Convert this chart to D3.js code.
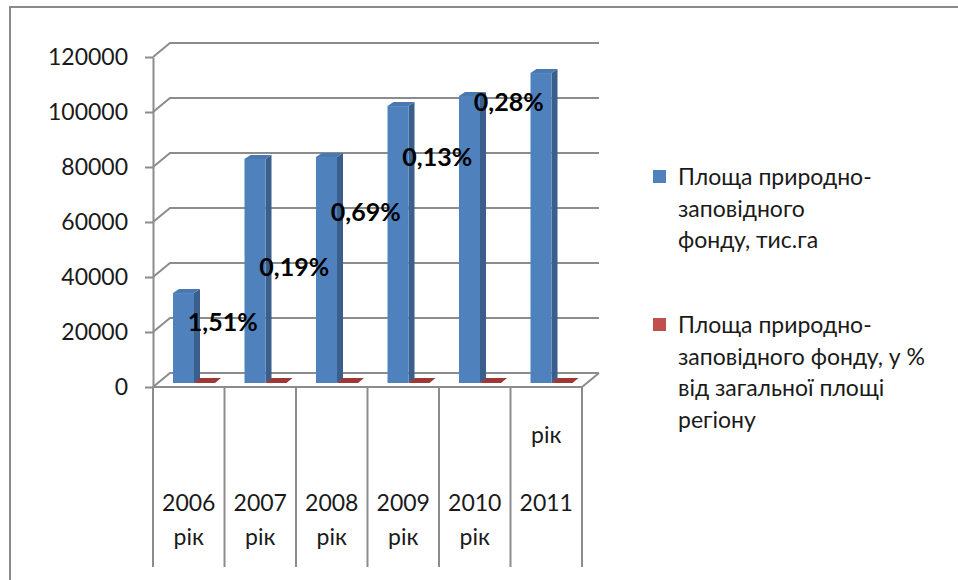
<!DOCTYPE html>
<html>
<head>
<meta charset="utf-8">
<script src="https://cdn.jsdelivr.net/npm/d3@7/dist/d3.min.js"></script>
<style>
  html, body { margin: 0; padding: 0; background: #ffffff; }
  svg { display: block; font-family: Lato, "Open Sans", sans-serif; }
</style>
</head>
<body>
<svg id="chart" width="958" height="580"></svg>
<script>
// ---- data ----
const categories = ["2006 рік", "2007 рік", "2008 рік", "2009 рік", "2010 рік", "2011 рік"];
const categoryTickLines = [["2006", "рік"], ["2007", "рік"], ["2008", "рік"], ["2009", "рік"], ["2010", "рік"], ["рік", "", "2011"]];
const areaValues = [32700, 81500, 82200, 100700, 104400, 112700];      // тис.га
const percentValues = [1.51, 0.19, 0.69, 0.13, 0.28, 0.3];             // % від площі
const percentLabels = ["1,51%", "0,19%", "0,69%", "0,13%", "0,28%"];
const yTicks = [0, 20000, 40000, 60000, 80000, 100000, 120000];
const seriesNames = [
  ["Площа природно-", "заповідного", "фонду, тис.га"],
  ["Площа природно-", "заповідного фонду, у %", "від загальної площі", "регіону"]
];
const seriesColors = ["#4F81BD", "#C0504D"];

// ---- layout ----
const svg = d3.select("#chart");
const FONT = 23;
const gridColor = "#8C8C8C";
const plotLeft = 153, plotRight = 582, plotBottom = 387, plotTop = 57;
const DX = 17, DY = -14;          // depth of the 3D floor / back wall
const bx = 5, by = -4;            // bar plane offset inside depth
const barW = 21, barDX = 6, barDY = -4;

const x = d3.scaleBand().domain(categories).range([plotLeft, plotRight]).padding(0);
const y = d3.scaleLinear().domain([0, 120000]).range([plotBottom, plotTop]);

// outer frame
svg.append("rect").attr("x", 10).attr("y", 7).attr("width", 980).attr("height", 620)
  .attr("fill", "none").attr("stroke", "#8A8A8A").attr("stroke-width", 2);

// back wall gridlines with diagonal connectors
const grid = svg.append("g");
yTicks.forEach(v => {
  const yy = y(v);
  grid.append("path")
    .attr("d", `M${plotLeft},${yy} L${plotLeft + DX},${yy + DY} L${plotRight + DX},${yy + DY}`)
    .attr("fill", "none").attr("stroke", gridColor).attr("stroke-width", 2);
});

// floor
svg.append("path")
  .attr("d", `M${plotLeft},${plotBottom} L${plotRight},${plotBottom} L${plotRight + DX},${plotBottom + DY}`)
  .attr("fill", "none").attr("stroke", gridColor).attr("stroke-width", 2);

// y axis
const yAxis = d3.axisLeft(y).tickValues(yTicks).tickSize(8).tickSizeOuter(0).tickPadding(17)
  .tickFormat(d3.format("d"));
const ya = svg.append("g").attr("transform", `translate(${plotLeft},0)`).call(yAxis);
ya.select(".domain").attr("stroke", gridColor).attr("stroke-width", 2);
ya.selectAll(".tick line").attr("stroke", gridColor).attr("stroke-width", 2);
ya.selectAll(".tick text").attr("font-size", FONT).attr("font-family", "Lato, sans-serif")
  .attr("fill", "#1a1a1a");

// category separators below floor
const sepX = categories.map(c => x(c)).concat([plotRight]);
sepX.forEach(sx => {
  svg.append("line").attr("x1", sx).attr("x2", sx).attr("y1", plotBottom).attr("y2", 567)
    .attr("stroke", gridColor).attr("stroke-width", 2);
});

// category labels
categories.forEach((c, i) => {
  const lines = categoryTickLines[i];
  const k = lines.findIndex(s => /\d{4}/.test(s));
  lines.forEach((s, j) => {
    if (!s) return;
    svg.append("text")
      .attr("x", x(c) + x.bandwidth() / 2)
      .attr("y", 503 + (j - k) * 34)
      .attr("dy", "0.35em")
      .attr("text-anchor", "middle")
      .attr("font-size", FONT).attr("fill", "#1a1a1a")
      .text(s);
  });
});

// 3D bar helper
function bar3d(g, x0, yTop, yBase, w, color) {
  const shade = d3.color(color).darker(0.85).formatHex();
  const topC = d3.color(color).darker(0.2).formatHex();
  g.append("path")
    .attr("d", `M${x0 + w},${yBase} L${x0 + w + barDX},${yBase + barDY} L${x0 + w + barDX},${yTop + barDY} L${x0 + w},${yTop} Z`)
    .attr("fill", shade);
  g.append("rect").attr("x", x0).attr("y", yTop).attr("width", w).attr("height", Math.max(0, yBase - yTop))
    .attr("fill", color);
  g.append("path")
    .attr("d", `M${x0},${yTop} L${x0 + barDX},${yTop + barDY} L${x0 + w + barDX},${yTop + barDY} L${x0 + w},${yTop} Z`)
    .attr("fill", topC);
}

const bars = svg.append("g");
categories.forEach((c, i) => {
  const x0 = x(c) + 15 + bx;
  const base = y(0) + by;
  bar3d(bars, x0, y(areaValues[i]) + by, base, barW, seriesColors[0]);
  if (percentValues[i] !== null) {
    const yTop = y(percentValues[i]) + by;
    bars.append("path")
      .attr("d", `M${x0 + barW},${yTop} L${x0 + barW + barDX},${yTop + barDY - 1} L${x0 + 2 * barW + barDX},${yTop + barDY - 1} L${x0 + 2 * barW},${yTop} Z`)
      .attr("fill", "#9E3835");
  }
});

// percentage data labels
percentLabels.forEach((t, i) => {
  svg.append("text")
    .attr("x", x(categories[i]) + x.bandwidth() / 2 + 34)
    .attr("y", y((i + 1) * 20000) - 10)
    .attr("dy", "0.35em")
    .attr("text-anchor", "middle")
    .attr("font-size", 25).attr("font-weight", "bold").attr("fill", "#000")
    .text(t);
});

// legend
const legendTop = [177, 325];
seriesNames.forEach((lines, si) => {
  svg.append("rect").attr("x", 653).attr("y", legendTop[si] - 7).attr("width", 13).attr("height", 13)
    .attr("fill", seriesColors[si]);
  lines.forEach((s, j) => {
    svg.append("text").attr("x", 678).attr("y", legendTop[si] + j * 31.5).attr("dy", "0.35em")
      .attr("font-size", FONT).attr("fill", "#1a1a1a").text(s);
  });
});
</script>
</body>
</html>
